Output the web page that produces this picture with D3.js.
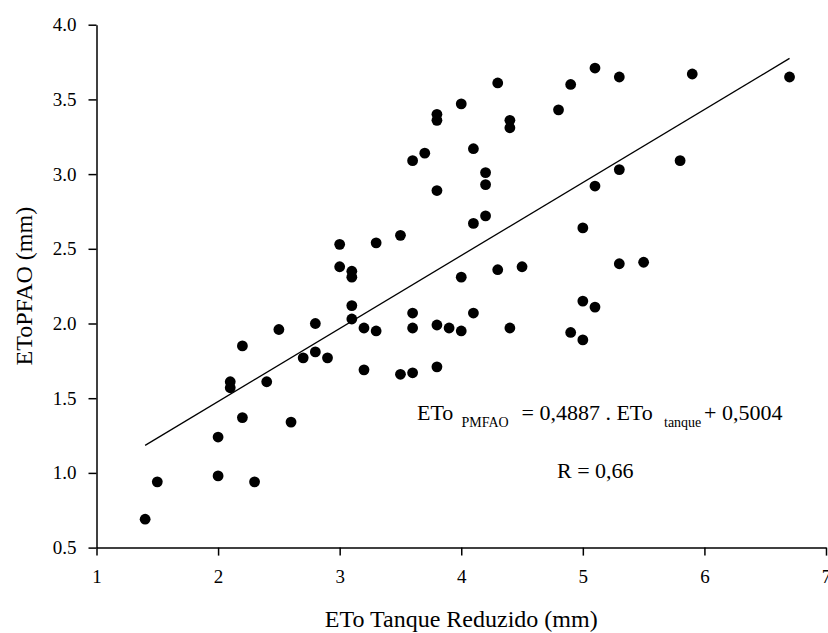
<!DOCTYPE html>
<html>
<head>
<meta charset="utf-8">
<script src="https://cdn.jsdelivr.net/npm/d3@7"></script>
<style>
  html, body { margin: 0; padding: 0; background: #fff; }
  svg text { font-family: "Liberation Serif", "Times New Roman", serif; fill: #000; }
</style>
</head>
<body>
<div id="chart"></div>
<script>
// ============================================================================
// DATA
// ============================================================================
// ETo tanque reduzido (mm) vs ETo Penman-Monteith FAO (mm)
const etoTanque = [
  1.4, 1.5, 2.0, 2.0, 2.1, 2.1, 2.2, 2.2, 2.3, 2.4,
  2.5, 2.6, 2.7, 2.8, 2.8, 2.9, 3.0, 3.0, 3.1, 3.1,
  3.1, 3.1, 3.2, 3.2, 3.3, 3.3, 3.5, 3.5, 3.6, 3.6,
  3.6, 3.6, 3.7, 3.8, 3.8, 3.8, 3.8, 3.8, 3.9, 4.0,
  4.0, 4.0, 4.1, 4.1, 4.1, 4.2, 4.2, 4.2, 4.3, 4.3,
  4.4, 4.4, 4.4, 4.5, 4.8, 4.9, 4.9, 5.0, 5.0, 5.0,
  5.1, 5.1, 5.1, 5.3, 5.3, 5.3, 5.5, 5.8, 5.9, 6.7
];
const etoPmfao = [
  0.69, 0.94, 0.98, 1.24, 1.57, 1.61, 1.37, 1.85, 0.94, 1.61,
  1.96, 1.34, 1.77, 1.81, 2.00, 1.77, 2.38, 2.53, 2.03, 2.12,
  2.31, 2.35, 1.69, 1.97, 1.95, 2.54, 1.66, 2.59, 1.67, 1.97,
  2.07, 3.09, 3.14, 1.71, 1.99, 2.89, 3.36, 3.40, 1.97, 1.95,
  2.31, 3.47, 2.07, 2.67, 3.17, 2.72, 2.93, 3.01, 2.36, 3.61,
  1.97, 3.31, 3.36, 2.38, 3.43, 1.94, 3.60, 1.89, 2.15, 2.64,
  2.11, 2.92, 3.71, 2.40, 3.03, 3.65, 2.41, 3.09, 3.67, 3.65
];

// fitted line: ETo_PMFAO = 0,4887 . ETo_tanque + 0,5004
const slope = 0.4887;
const intercept = 0.5004;
const fitRange = [1.4, 6.7];

const xTicks = [1, 2, 3, 4, 5, 6, 7];
const yTicks = [0.5, 1.0, 1.5, 2.0, 2.5, 3.0, 3.5, 4.0];

const points = etoTanque.map((x, i) => ({ x: x, y: etoPmfao[i] }));

// ============================================================================
// DIMENSIONS
// ============================================================================
const W = 828, H = 633;
const margin = { top: 24.7, right: 2, bottom: 85.4, left: 96.5 };
const width = W - margin.left - margin.right;
const height = H - margin.top - margin.bottom;

const svg = d3.select('#chart')
  .append('svg')
  .attr('width', W)
  .attr('height', H);

const g = svg.append('g')
  .attr('transform', `translate(${margin.left},${margin.top})`);

// ============================================================================
// SCALES + AXES
// ============================================================================
const x = d3.scaleLinear().domain([1, 7]).range([0, width]);
const y = d3.scaleLinear().domain([0.5, 4.0]).range([height, 0]);

const xAxis = g.append('g')
  .attr('transform', `translate(0,${height})`)
  .call(d3.axisBottom(x).tickValues(xTicks).tickFormat(d3.format('d'))
    .tickSize(8).tickSizeOuter(0).tickPadding(14));

const yAxis = g.append('g')
  .call(d3.axisLeft(y).tickValues(yTicks).tickFormat(d3.format('.1f'))
    .tickSize(8).tickSizeOuter(0).tickPadding(12));

[xAxis, yAxis].forEach(ax => {
  ax.select('.domain').attr('stroke', '#000').attr('stroke-width', 1.5);
  ax.selectAll('.tick line').attr('stroke', '#000').attr('stroke-width', 1.5);
  ax.selectAll('.tick text')
    .style('font-family', '"Liberation Serif", "Times New Roman", serif')
    .style('font-size', '19px')
    .attr('fill', '#000');
});

// ============================================================================
// REGRESSION LINE + POINTS
// ============================================================================
const line = d3.line().x(d => x(d)).y(d => y(slope * d + intercept));

g.append('path')
  .datum(fitRange)
  .attr('fill', 'none')
  .attr('stroke', '#000')
  .attr('stroke-width', 1.3)
  .attr('d', line);

g.selectAll('circle.pt')
  .data(points)
  .join('circle')
  .attr('class', 'pt')
  .attr('cx', d => x(d.x))
  .attr('cy', d => y(d.y))
  .attr('r', 5.4)
  .attr('fill', '#000');

// ============================================================================
// LABELS
// ============================================================================
svg.append('text')
  .attr('x', margin.left + width / 2)
  .attr('y', 627)
  .attr('text-anchor', 'middle')
  .style('font-size', '24px')
  .text('ETo Tanque Reduzido (mm)');

svg.append('text')
  .attr('transform', `translate(32, ${margin.top + height / 2}) rotate(-90)`)
  .attr('text-anchor', 'middle')
  .style('font-size', '24px')
  .text('EToPFAO (mm)');

// equation
const eq = svg.append('text')
  .attr('y', 420)
  .style('font-size', '22px');
eq.append('tspan').attr('x', 417).text('ETo');
eq.append('tspan').attr('x', 461.5).attr('dy', 7).style('font-size', '14px').text('PMFAO');
eq.append('tspan').attr('x', 521.5).attr('dy', -7).text('= 0,4887 . ETo');
eq.append('tspan').attr('x', 664).attr('dy', 7).style('font-size', '14px').text('tanque');
eq.append('tspan').attr('x', 704).attr('dy', -7).text('+ 0,5004');

svg.append('text')
  .attr('x', 557)
  .attr('y', 478)
  .style('font-size', '22px')
  .text('R = 0,66');
</script>
</body>
</html>
